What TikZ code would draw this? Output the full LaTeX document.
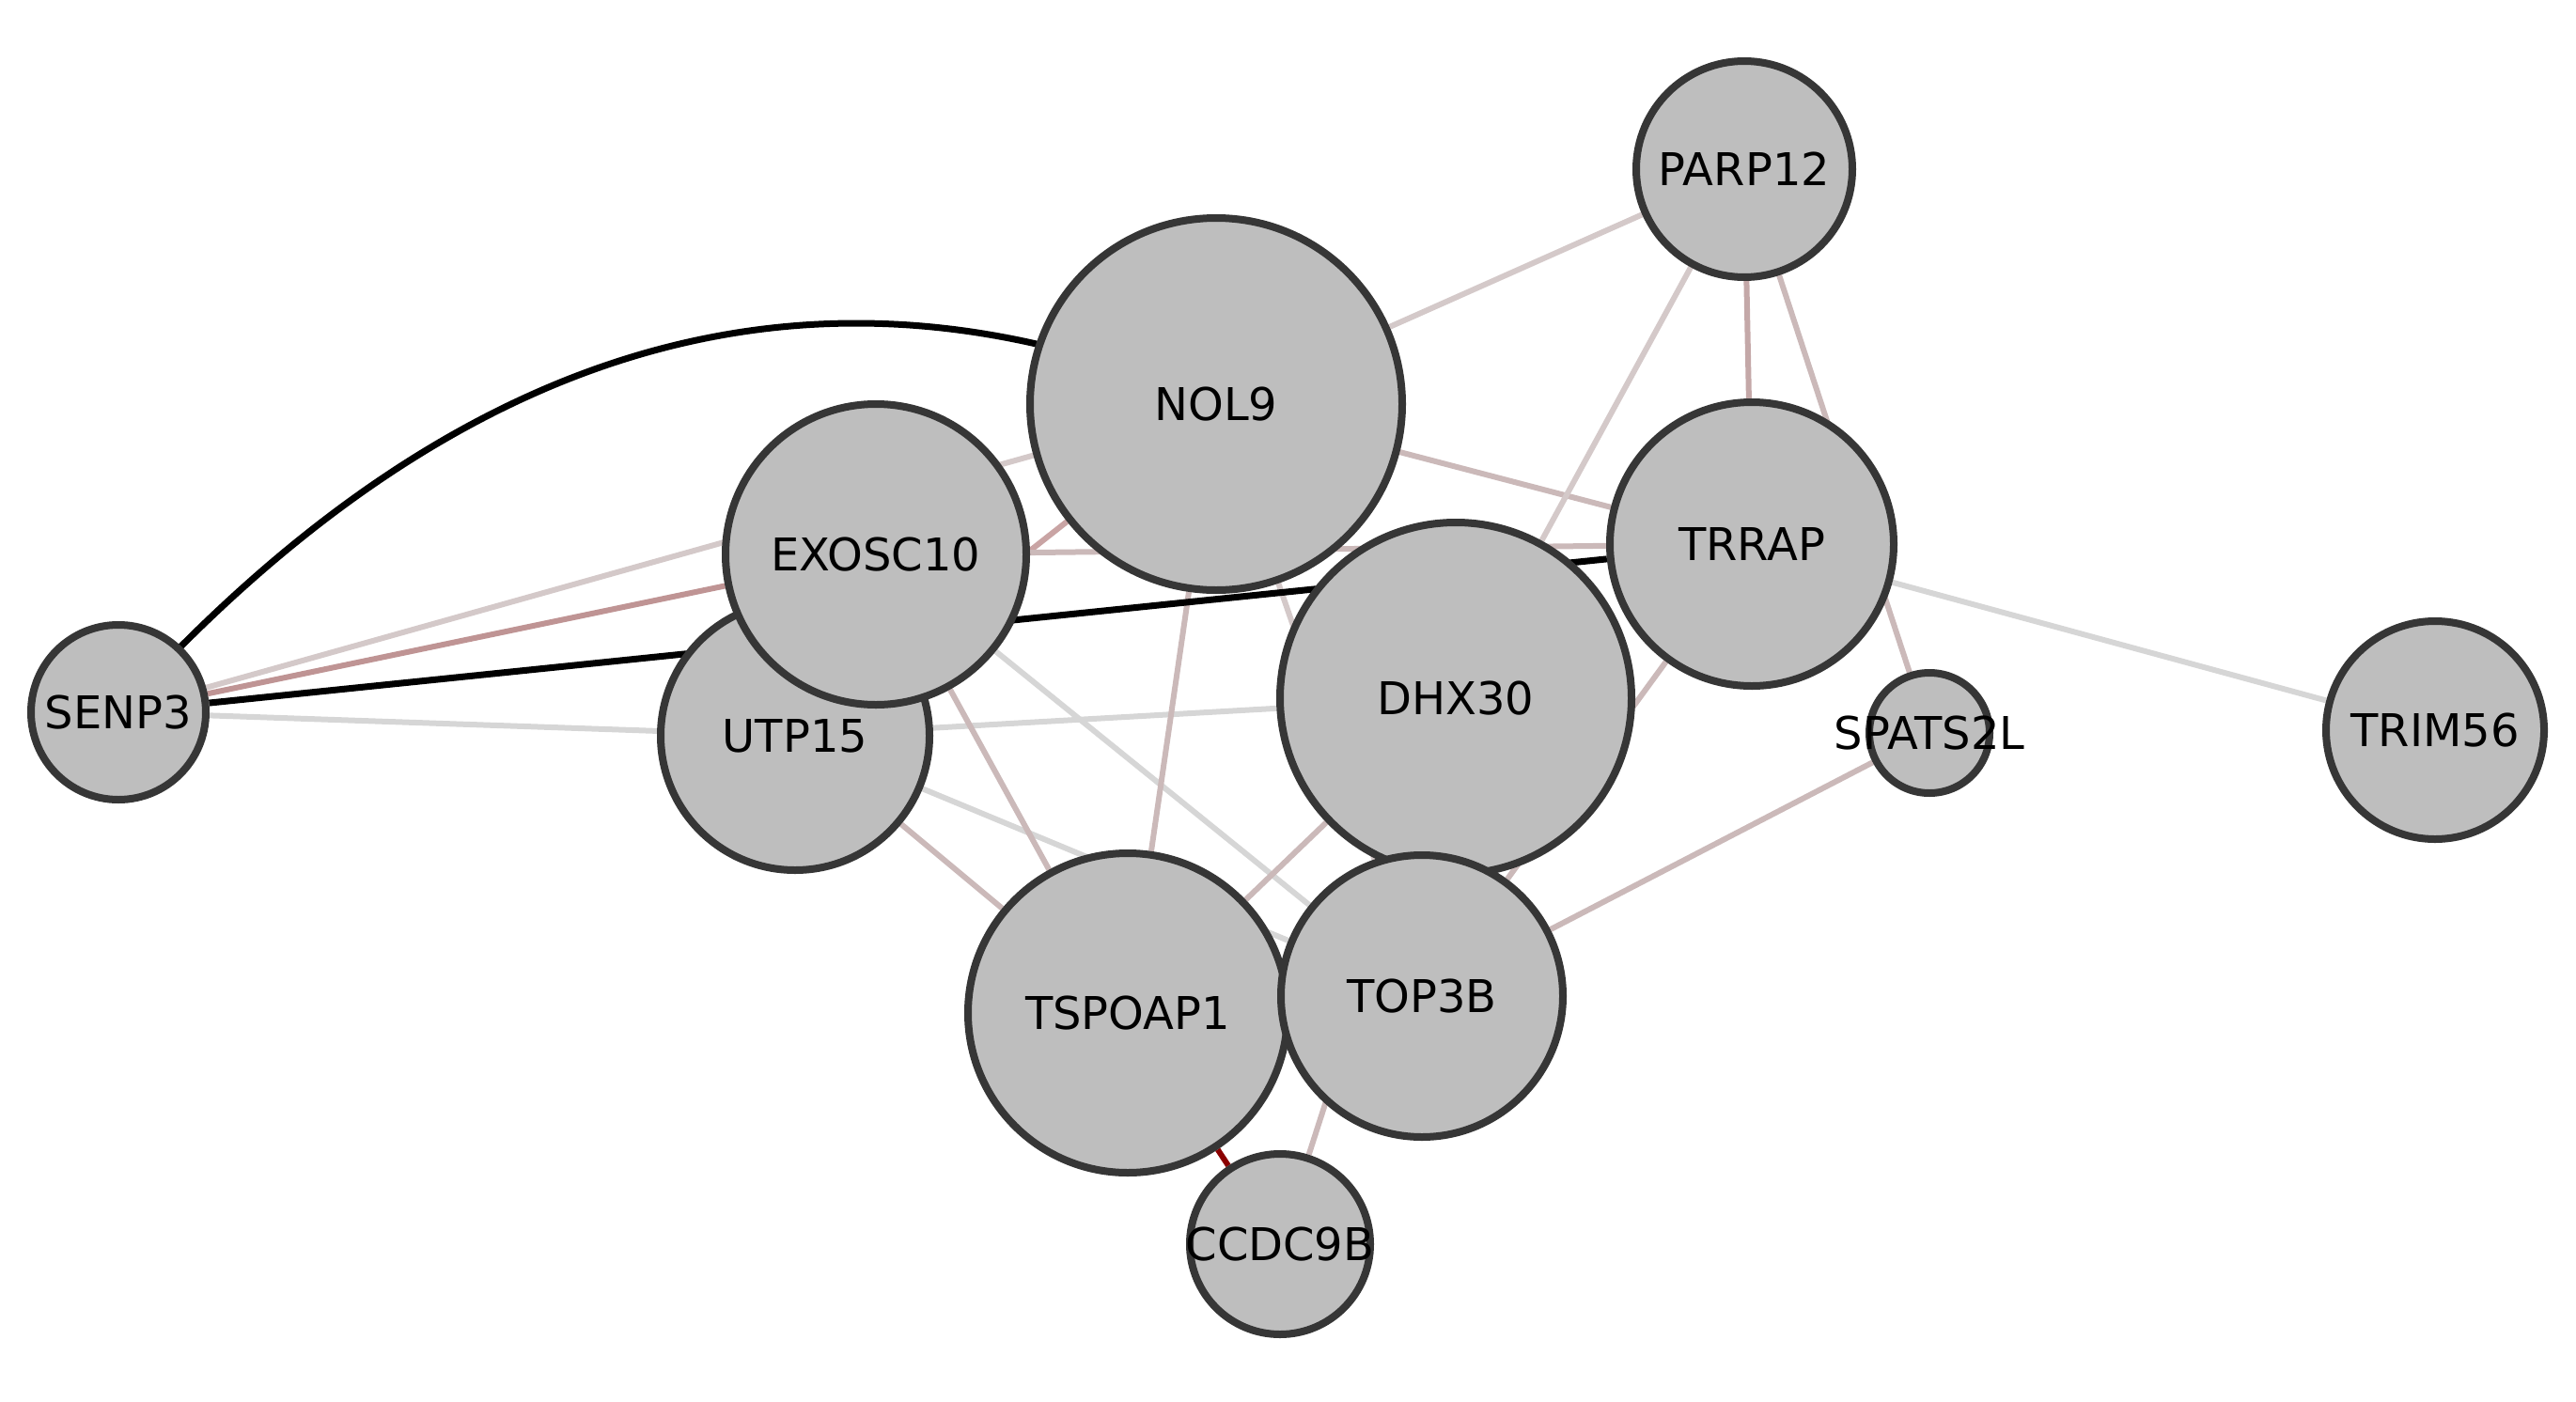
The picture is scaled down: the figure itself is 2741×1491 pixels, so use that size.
\documentclass[tikz,border=0pt]{standalone}
\usepackage{fontspec}
\setmainfont{DejaVu Sans}
\definecolor{nodefill}{HTML}{BEBEBE}
\definecolor{nodeedge}{HTML}{363636}
\definecolor{cgray}{HTML}{D6D6D6}
\definecolor{cpale}{HTML}{D4C9C9}
\definecolor{cpink}{HTML}{CBB9B9}
\definecolor{crose}{HTML}{C4A8A8}
\definecolor{cred}{HTML}{BF9494}
\definecolor{cdark}{HTML}{8B0000}
\pgfdeclarelayer{edges}
\pgfsetlayers{edges,main}
\begin{document}
\begin{tikzpicture}[x=1pt,y=-1pt,
  gene/.style={circle, draw=nodeedge, fill=nodefill, line width=8pt,
    inner sep=0pt, minimum size=#1},
  genetext/.style={font=\fontsize{48}{58}\selectfont, inner sep=0pt},
  ppi/.style={line width=6pt, draw=#1},
  strongppi/.style={line width=7pt, draw=black}]
\useasboundingbox (0,0) rectangle (2741,1491);

% proteins (later ones sit on top)
\node[gene=186] (senp3)   at (126,758)   {};
\node[gene=286] (utp15)   at (846,783)   {};
\node[gene=320] (exosc10) at (932,590)   {};
\node[gene=396] (nol9)    at (1294,430)  {};
\node[gene=230] (parp12)  at (1856,180)  {};
\node[gene=374] (dhx30)   at (1549,743)  {};
\node[gene=302] (trrap)   at (1864,579)  {};
\node[gene=128] (spats2l) at (2053,780)  {};
\node[gene=232] (trim56)  at (2591,777)  {};
\node[gene=340] (tspoap1) at (1200,1078) {};
\node[gene=300] (top3b)   at (1513,1060) {};
\node[gene=192] (ccdc9b)  at (1362,1324) {};

% names
\node[genetext] (t-senp3)   at (senp3)   {SENP3};
\node[genetext] (t-utp15)   at (utp15)   {UTP15};
\node[genetext] (t-exosc10) at (exosc10) {EXOSC10};
\node[genetext] (t-nol9)    at (nol9)    {NOL9};
\node[genetext] (t-parp12)  at (parp12)  {PARP12};
\node[genetext] (t-dhx30)   at (dhx30)   {DHX30};
\node[genetext] (t-trrap)   at (trrap)   {TRRAP};
\node[genetext] (t-spats2l) at (spats2l) {SPATS2L};
\node[genetext] (t-trim56)  at (trim56)  {TRIM56};
\node[genetext] (t-tspoap1) at (tspoap1) {TSPOAP1};
\node[genetext] (t-top3b)   at (top3b)   {TOP3B};
\node[genetext] (t-ccdc9b)  at (ccdc9b)  {CCDC9B};

% interactions
\begin{pgfonlayer}{edges}
\draw[ppi=cpale] (senp3) -- (nol9);
\draw[ppi=cgray] (senp3) -- (utp15);
\draw[ppi=cred]  (senp3) -- (exosc10);
\draw[ppi=cgray] (utp15) -- (dhx30);
\draw[ppi=cpink] (utp15) -- (tspoap1);
\draw[ppi=cgray] (utp15) -- (top3b);
\draw[ppi={cred!85!white}] (utp15) -- (nol9);
\draw[ppi=cpink] (exosc10) -- (trrap);
\draw[ppi=cpink] (exosc10) -- (tspoap1);
\draw[ppi=cgray] (exosc10) -- (top3b);
\draw[ppi=cpale] (nol9) -- (parp12);
\draw[ppi=cpink] (nol9) -- (trrap);
\draw[ppi=cpink] (nol9) -- (tspoap1);
\draw[ppi=cpale] (nol9) -- (top3b);
\draw[ppi=crose] (parp12) -- (trrap);
\draw[ppi=cpink] (parp12) -- (spats2l);
\draw[ppi=cpale] (parp12) -- (dhx30);
\draw[ppi=cgray] (trrap) -- (trim56);
\draw[ppi=cpink] (trrap) -- (top3b);
\draw[ppi=cpink] (spats2l) -- (top3b);
\draw[ppi=cpink] (dhx30) -- (tspoap1);
\draw[ppi=cpink] (dhx30) -- (ccdc9b);
\draw[ppi=cdark] (tspoap1) -- (ccdc9b);
\draw[strongppi] (senp3) -- (trrap);
\draw[strongppi] (senp3.center) .. controls (489,356) and (878,247) .. (nol9.center);
\end{pgfonlayer}
\end{tikzpicture}
\end{document}
